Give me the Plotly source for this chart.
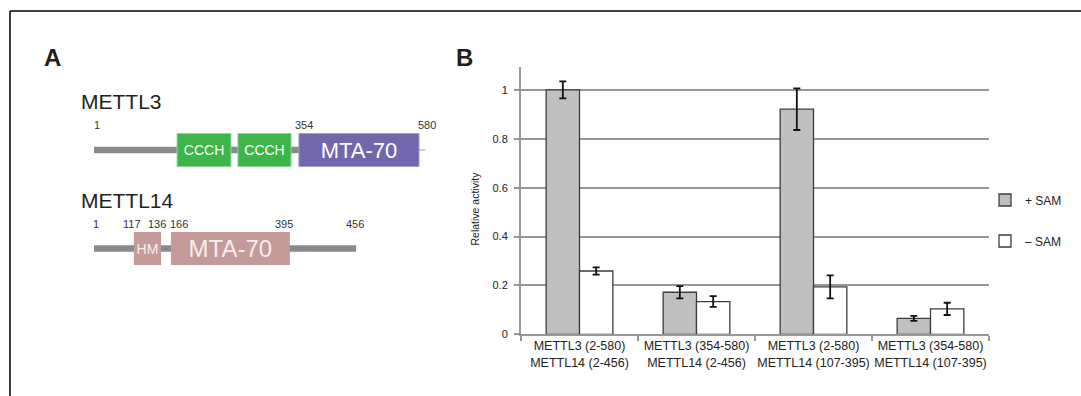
import plotly.graph_objects as go

# ---------------- Panel B data ----------------
categories = ["METTL3 (2-580)<br>METTL14 (2-456)",
              "METTL3 (354-580)<br>METTL14 (2-456)",
              "METTL3 (2-580)<br>METTL14 (107-395)",
              "METTL3 (354-580)<br>METTL14 (107-395)"]
plus_sam = [1.0, 0.172, 0.921, 0.065]
plus_sam_err = [0.035, 0.025, 0.085, 0.010]
minus_sam = [0.259, 0.134, 0.194, 0.104]
minus_sam_err = [0.015, 0.022, 0.047, 0.025]
series_names = ["+ SAM", "\u2013 SAM"]

# ---------------- Panel A data (schematic units, METTL3 residue scale) ----------------
proteins = ["METTL3", "METTL14"]
protein_rows = [1, 0]
backbone_start = [1, 1]
backbone_end = [580, 468]
m3_dom_names = ["CCCH", "CCCH", "MTA-70"]
m3_dom_start = [149, 257.5, 366]
m3_dom_end = [245, 352, 580]
m14_dom_names = ["HM", "MTA-70"]
m14_dom_start = [72, 138]
m14_dom_end = [120.5, 350]
m3_pos_labels = ["1", "354", "580"]
m3_pos_x = [7, 375, 594]
m14_pos_labels = ["1", "117", "136", "166", "395", "456"]
m14_pos_x = [4, 68, 114, 152, 339.5, 466]
m3_tail = [580, 591]

FONT = "Liberation Sans, Arial, Helvetica, sans-serif"
W, H = 1081, 396

fig = go.Figure()

# ----- Panel B bars -----
fig.add_trace(go.Bar(
    x=categories, y=plus_sam, name=series_names[0],
    marker=dict(color="#c0c0c0", line=dict(color="#3c3c3c", width=1.3)),
    error_y=dict(type="data", array=plus_sam_err, color="#111111", thickness=1.8, width=3.5),
    xaxis="x", yaxis="y", legend="legend",
))
fig.add_trace(go.Bar(
    x=categories, y=minus_sam, name=series_names[1],
    marker=dict(color="#ffffff", line=dict(color="#3c3c3c", width=1.3)),
    error_y=dict(type="data", array=minus_sam_err, color="#111111", thickness=1.8, width=3.5),
    xaxis="x", yaxis="y", legend="legend2",
))

# ----- Panel A schematic -----
bb_w = 0.068
fig.add_trace(go.Bar(
    orientation="h", y=protein_rows,
    base=backbone_start, x=[e - s for s, e in zip(backbone_start, backbone_end)],
    width=bb_w, offset=-bb_w / 2,
    marker=dict(color="#8a8a8d", line=dict(width=0)),
    xaxis="x2", yaxis="y2", showlegend=False, hoverinfo="skip",
))
fig.add_trace(go.Bar(
    orientation="h", y=[protein_rows[0]],
    base=[m3_tail[0]], x=[m3_tail[1] - m3_tail[0]],
    width=0.012, offset=-0.006,
    marker=dict(color="#c9c4e3", line=dict(width=0)),
    xaxis="x2", yaxis="y2", showlegend=False, hoverinfo="skip",
))
box_w = 0.335
fig.add_trace(go.Bar(
    orientation="h", y=[protein_rows[0]] * len(m3_dom_names),
    base=m3_dom_start, x=[e - s for s, e in zip(m3_dom_start, m3_dom_end)],
    width=box_w, offset=-box_w / 2,
    marker=dict(color=["#3db54a", "#3db54a", "#7266ad"],
                line=dict(color=["#8fd494", "#8fd494", "#a69dd0"], width=1)),
    text=m3_dom_names, textposition="inside", insidetextanchor="middle",
    textangle=0, constraintext="none",
    textfont=dict(family=FONT, color="#ffffff", size=[14, 14, 22]),
    xaxis="x2", yaxis="y2", showlegend=False, hoverinfo="skip",
))
fig.add_trace(go.Bar(
    orientation="h", y=[protein_rows[1]] * len(m14_dom_names),
    base=m14_dom_start, x=[e - s for s, e in zip(m14_dom_start, m14_dom_end)],
    width=box_w, offset=-box_w / 2,
    marker=dict(color="#c49b98", line=dict(width=0)),
    text=m14_dom_names, textposition="inside", insidetextanchor="middle",
    textangle=0, constraintext="none",
    textfont=dict(family=FONT, color="#f6eeee", size=[14, 24]),
    xaxis="x2", yaxis="y2", showlegend=False, hoverinfo="skip",
))

annotations = []
# protein names
for name, row in zip(proteins, protein_rows):
    annotations.append(dict(x=-26, y=row + 0.49, xref="x2", yref="y2", text=name,
                            showarrow=False, xanchor="left", yanchor="middle",
                            font=dict(family=FONT, size=21, color="#231f20")))
for lab, xx in zip(m3_pos_labels, m3_pos_x):
    annotations.append(dict(x=xx, y=protein_rows[0] + 0.25, xref="x2", yref="y2", text=lab,
                            showarrow=False, xanchor="center", yanchor="middle",
                            font=dict(family=FONT, size=11, color="#333333")))
for lab, xx in zip(m14_pos_labels, m14_pos_x):
    annotations.append(dict(x=xx, y=protein_rows[1] + 0.25, xref="x2", yref="y2", text=lab,
                            showarrow=False, xanchor="center", yanchor="middle",
                            font=dict(family=FONT, size=11, color="#333333")))

# panel letters
annotations.append(dict(x=42 / W, y=1 - 58 / H, xref="paper", yref="paper", text="<b>A</b>",
                        showarrow=False, xanchor="left", yanchor="middle",
                        font=dict(family=FONT, size=24, color="#231f20")))
annotations.append(dict(x=454 / W, y=1 - 58 / H, xref="paper", yref="paper", text="<b>B</b>",
                        showarrow=False, xanchor="left", yanchor="middle",
                        font=dict(family=FONT, size=24, color="#231f20")))
# y axis title
annotations.append(dict(x=474.5 / W, y=1 - 209 / H, xref="paper", yref="paper",
                        text="Relative activity", textangle=-90,
                        showarrow=False, xanchor="center", yanchor="middle",
                        font=dict(family=FONT, size=10.5, color="#222222")))

# frame lines
shapes = [
    dict(type="line", xref="paper", yref="paper", x0=10 / W, x1=1, y0=1 - 11 / H, y1=1 - 11 / H,
         line=dict(color="#000000", width=1.5)),
    dict(type="line", xref="paper", yref="paper", x0=10 / W, x1=10 / W, y0=0, y1=1 - 11 / H,
         line=dict(color="#000000", width=1.5)),
]

# panel A axis scale: residue 1 -> px 94, residue 580 -> px 419
u_per_px = 579 / (419 - 94)
x2_dom = [0, 0.45]
x2_range = [1 - 94 * u_per_px, 1 + (0.45 * W - 94) * u_per_px]
row_px = 98.5
y2_range = [(248.5 - H) / row_px, 248.5 / row_px]

GRID = "#979797"
fig.update_layout(
    width=W, height=H, margin=dict(l=0, r=0, t=0, b=0, pad=0, autoexpand=False),
    paper_bgcolor="#ffffff", plot_bgcolor="rgba(0,0,0,0)",
    font=dict(family=FONT, color="#222222"),
    barmode="group", bargap=0.43, bargroupgap=0,
    xaxis=dict(domain=[521 / W, 989 / W], anchor="y", type="category",
               showline=True, linecolor=GRID, linewidth=2, automargin=False,
               ticks="outside", tickson="boundaries", ticklen=5, tickcolor=GRID, tickwidth=1.5,
               tickangle=0, ticklabelstandoff=-1,
               showgrid=False, tickfont=dict(family=FONT, size=12.5, color="#222222")),
    yaxis=dict(domain=[1 - 334.3 / H, 1 - 66.7 / H], anchor="x", range=[0, 1.095],
               tick0=0, dtick=0.2, showgrid=True, gridcolor=GRID, gridwidth=1.5,
               showline=True, linecolor=GRID, linewidth=2, zeroline=False, automargin=False,
               ticks="outside", ticklen=5, tickcolor=GRID, tickwidth=1.5,
               ticklabelstandoff=4,
               tickfont=dict(family=FONT, size=11, color="#222222")),
    xaxis2=dict(domain=x2_dom, anchor="y2", range=x2_range, visible=False, fixedrange=True),
    yaxis2=dict(domain=[0, 1], anchor="x2", range=y2_range, visible=False, fixedrange=True),
    legend=dict(x=985 / W, y=1 - 200 / H, xanchor="left", yanchor="middle",
                bgcolor="rgba(0,0,0,0)", font=dict(family=FONT, size=12, color="#222222")),
    legend2=dict(x=985 / W, y=1 - 241 / H, xanchor="left", yanchor="middle",
                 bgcolor="rgba(0,0,0,0)", font=dict(family=FONT, size=12, color="#222222")),
    annotations=annotations, shapes=shapes,
)

fig.write_html("out.html", config={"displayModeBar": False},
               post_script="document.body.style.margin='0px';document.body.style.overflow='hidden';")
